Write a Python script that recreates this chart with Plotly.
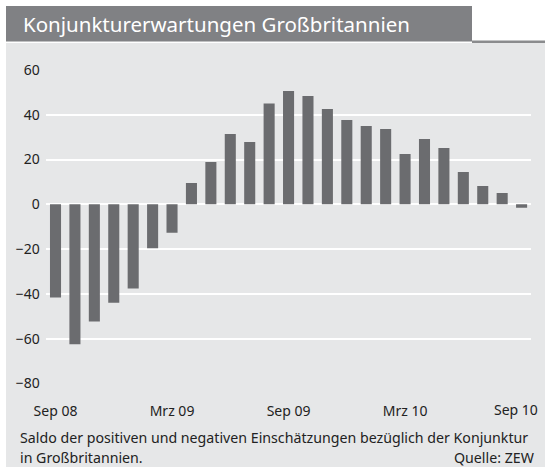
import plotly.graph_objects as go

months = ["Sep 08", "Okt 08", "Nov 08", "Dez 08", "Jan 09", "Feb 09", "Mrz 09",
          "Apr 09", "Mai 09", "Jun 09", "Jul 09", "Aug 09", "Sep 09", "Okt 09",
          "Nov 09", "Dez 09", "Jan 10", "Feb 10", "Mrz 10", "Apr 10", "Mai 10",
          "Jun 10", "Jul 10", "Aug 10", "Sep 10"]
values = [-41.6, -62.5, -52.3, -43.9, -37.6, -19.6, -12.7, 9.5, 18.9, 31.4,
          27.8, 45.0, 50.6, 48.3, 42.5, 37.6, 34.9, 33.6, 22.5, 29.2, 25.1,
          14.4, 8.2, 5.0, -1.5]
tick_labels = ["Sep 08", "Mrz 09", "Sep 09", "Mrz 10", "Sep 10"]
y_ticks = [-80, -60, -40, -20, 0, 20, 40, 60]

title = "Konjunkturerwartungen Großbritannien"
caption1 = "Saldo der positiven und negativen Einschätzungen bezüglich der Konjunktur"
caption2 = "in Großbritannien."
source = "Quelle: ZEW"

W, H = 545, 471
FONT = "Noto Sans"
TXT = "#222222"


def px(x):
    return x / W


def py(y):
    return 1 - y / H


fig = go.Figure(go.Bar(
    x=months, y=values, marker=dict(color="#6b6c6f", line=dict(width=0)),
    width=0.57, hoverinfo="x+y"))

fig.update_layout(
    width=W, height=H,
    margin=dict(l=0, r=0, t=0, b=0),
    paper_bgcolor="white",
    plot_bgcolor="rgba(0,0,0,0)",
    showlegend=False,
    font=dict(family=FONT, size=14, color=TXT),
    xaxis=dict(domain=[px(45.8), px(531.3)], range=[-0.5, 24.5],
               type="category", tickmode="array", tickvals=tick_labels[:-1],
               ticktext=tick_labels[:-1], showgrid=False, zeroline=False,
               showline=False, ticks="", automargin=False,
               ticklabelstandoff=17, tickfont=dict(size=14, color=TXT)),
    yaxis=dict(domain=[py(383.5), py(69.9)], range=[-80, 60],
               tickmode="array", tickvals=y_ticks, showgrid=True,
               gridcolor="white", gridwidth=2, zeroline=True,
               zerolinecolor="white", zerolinewidth=2, showline=False,
               ticks="", automargin=False, ticklabelstandoff=5,
               tickfont=dict(size=14, color=TXT)),
    shapes=[
        dict(type="rect", xref="paper", yref="paper", x0=px(6), x1=px(545),
             y0=py(467), y1=py(43), fillcolor="#e6e7e8", line=dict(width=0),
             layer="below"),
        dict(type="rect", xref="paper", yref="paper", x0=px(6), x1=px(472),
             y0=py(41.5), y1=py(6), fillcolor="#808184", line=dict(width=0),
             layer="below"),
        dict(type="rect", xref="paper", yref="paper", x0=px(472), x1=px(545),
             y0=py(43), y1=py(40.5), fillcolor="#8a8b8d", line=dict(width=0),
             layer="below"),
    ],
    annotations=[
        # last month label, nudged left on its tick (as in the reference)
        dict(text=tick_labels[-1], xref="x", yref="paper", x=tick_labels[-1],
             y=py(409.5), xanchor="right", yanchor="middle", xshift=18,
             showarrow=False, font=dict(family=FONT, size=14, color=TXT)),
        dict(text=title, xref="paper", yref="paper", x=px(21), y=py(24),
             xanchor="left", yanchor="middle", showarrow=False,
             font=dict(family=FONT, size=20.5, color="white")),
        dict(text=caption1, xref="paper", yref="paper", x=px(18), y=py(437),
             xanchor="left", yanchor="middle", showarrow=False,
             font=dict(family=FONT, size=14.2, color=TXT)),
        dict(text=caption2, xref="paper", yref="paper", x=px(18), y=py(457),
             xanchor="left", yanchor="middle", showarrow=False,
             font=dict(family=FONT, size=14.2, color=TXT)),
        dict(text=source, xref="paper", yref="paper", x=px(537), y=py(457),
             xanchor="right", yanchor="middle", showarrow=False,
             font=dict(family=FONT, size=14.2, color=TXT)),
    ],
)

fig.write_html(
    "out.html",
    config={"displayModeBar": False},
    post_script="document.body.style.margin='0';"
                "document.body.style.overflow='hidden';",
)
